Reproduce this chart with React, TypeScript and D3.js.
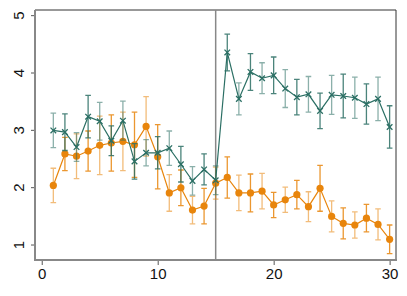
import { useEffect, useRef } from "react";
import * as d3 from "d3";

// x positions 1..30
const periods = d3.range(1, 31);

// green series (x markers)
const greenMean = [2.99, 2.96, 2.7, 3.23, 3.15, 2.81, 3.16, 2.45, 2.6, 2.6, 2.68, 2.4, 2.11, 2.31, 2.12,
  4.35, 3.54, 4.01, 3.9, 3.95, 3.72, 3.57, 3.62, 3.33, 3.61, 3.59, 3.56, 3.45, 3.54, 3.05];
const greenErr = [0.3, 0.32, 0.25, 0.37, 0.33, 0.26, 0.34, 0.31, 0.23, 0.28, 0.3, 0.31, 0.25, 0.27, 0.25,
  0.32, 0.28, 0.32, 0.27, 0.32, 0.33, 0.31, 0.31, 0.31, 0.34, 0.38, 0.36, 0.35, 0.38, 0.37];

// orange series (dots)
const orangeMean = [2.03, 2.58, 2.54, 2.63, 2.73, 2.77, 2.8, 2.74, 3.06, 2.53, 1.9, 1.99, 1.6, 1.67, 2.07,
  2.17, 1.9, 1.9, 1.93, 1.69, 1.78, 1.87, 1.66, 1.98, 1.49, 1.37, 1.34, 1.46, 1.35, 1.09];
const orangeErr = [0.3, 0.29, 0.39, 0.35, 0.51, 0.49, 0.51, 0.57, 0.52, 0.56, 0.32, 0.31, 0.24, 0.31, 0.28,
  0.36, 0.31, 0.33, 0.31, 0.22, 0.22, 0.25, 0.26, 0.4, 0.27, 0.27, 0.23, 0.24, 0.27, 0.25];

const xTicks = [0, 10, 20, 30];
const yTicks = [1, 2, 3, 4, 5];
const breakAt = 15;

const GREEN = "#2b6f64";
const ORANGE = "#e8850c";

export default function App() {
  const svgRef = useRef<SVGSVGElement>(null);

  useEffect(() => {
    const width = 407,
      height = 296;
    const left = 35,
      right = 396,
      top = 10,
      bottom = 260;

    const x = d3.scaleLinear().domain([-0.58, 30.55]).range([left, right]);
    const y = d3.scaleLinear().domain([0.73, 5.09]).range([bottom, top]);

    const svg = d3.select(svgRef.current).attr("width", width).attr("height", height);
    svg.selectAll("*").remove();

    svg.append("rect").attr("width", width).attr("height", height).attr("fill", "#fff");

    // frame: top/right thin dark
    svg
      .append("path")
      .attr("d", `M${left},${top}H${right}V${bottom}`)
      .attr("fill", "none")
      .attr("stroke", "#333")
      .attr("stroke-width", 1);

    // break line
    svg
      .append("line")
      .attr("x1", x(breakAt))
      .attr("x2", x(breakAt))
      .attr("y1", top)
      .attr("y2", bottom)
      .attr("stroke", "#888")
      .attr("stroke-width", 1.5);

    const drawSeries = (mean: number[], err: number[], color: string, marker: "x" | "o") => {
      const g = svg.append("g");
      // error bars
      periods.forEach((p, i) => {
        const cx = x(p);
        const y0 = y(mean[i] - err[i]);
        const y1 = y(mean[i] + err[i]);
        g.append("path")
          .attr("d", `M${cx},${y0}V${y1}M${cx - 2.8},${y0}H${cx + 2.8}M${cx - 2.8},${y1}H${cx + 2.8}`)
          .attr("fill", "none")
          .attr("stroke", color)
          .attr("stroke-opacity", i % 2 ? 0.85 : 0.55)
          .attr("stroke-width", 1.3);
      });
      // line
      const line = d3
        .line<number>()
        .x((_, i) => x(periods[i]))
        .y((d) => y(d));
      g.append("path")
        .attr("d", line(mean))
        .attr("fill", "none")
        .attr("stroke", color)
        .attr("stroke-width", 1.2);
      // markers
      periods.forEach((p, i) => {
        const cx = x(p);
        const cy = y(mean[i]);
        if (marker === "o") {
          g.append("circle").attr("cx", cx).attr("cy", cy).attr("r", 3.6).attr("fill", color);
        } else {
          const s = 2.8;
          g.append("path")
            .attr("d", `M${cx - s},${cy - s}L${cx + s},${cy + s}M${cx - s},${cy + s}L${cx + s},${cy - s}`)
            .attr("stroke", color)
            .attr("stroke-width", 1.3);
        }
      });
    };

    drawSeries(orangeMean, orangeErr, ORANGE, "o");
    drawSeries(greenMean, greenErr, GREEN, "x");

    // left / bottom axes
    const font = "'Liberation Sans', Arial, sans-serif";
    const yAxis = svg
      .append("g")
      .attr("transform", `translate(${left},0)`)
      .call(d3.axisLeft(y).tickValues(yTicks).tickSize(4).tickPadding(4).tickFormat(d3.format("d")));
    yAxis.select(".domain").remove();
    yAxis.selectAll(".tick line").attr("stroke", "#555");
    yAxis
      .selectAll<SVGTextElement, number>(".tick text")
      .attr("transform", "rotate(-90)")
      .attr("x", 0)
      .attr("y", -11)
      .attr("dy", 0)
      .attr("text-anchor", "middle")
      .attr("fill", "#111")
      .style("font-family", font)
      .style("font-size", "15px");

    const xAxis = svg
      .append("g")
      .attr("transform", `translate(0,${bottom})`)
      .call(d3.axisBottom(x).tickValues(xTicks).tickSize(5).tickPadding(3).tickFormat(d3.format("d")));
    xAxis.select(".domain").remove();
    xAxis.selectAll(".tick line").attr("stroke", "#555");
    xAxis
      .selectAll(".tick text")
      .attr("fill", "#111")
      .style("font-family", font)
      .style("font-size", "15px");

    svg
      .append("path")
      .attr("d", `M${left},${top}V${bottom}H${right + 1}`)
      .attr("fill", "none")
      .attr("stroke", "#888")
      .attr("stroke-width", 2);
  }, []);

  return (
    <div style={{ position: "fixed", left: 0, top: 0 }}>
      <svg ref={svgRef} style={{ display: "block" }}></svg>
    </div>
  );
}
